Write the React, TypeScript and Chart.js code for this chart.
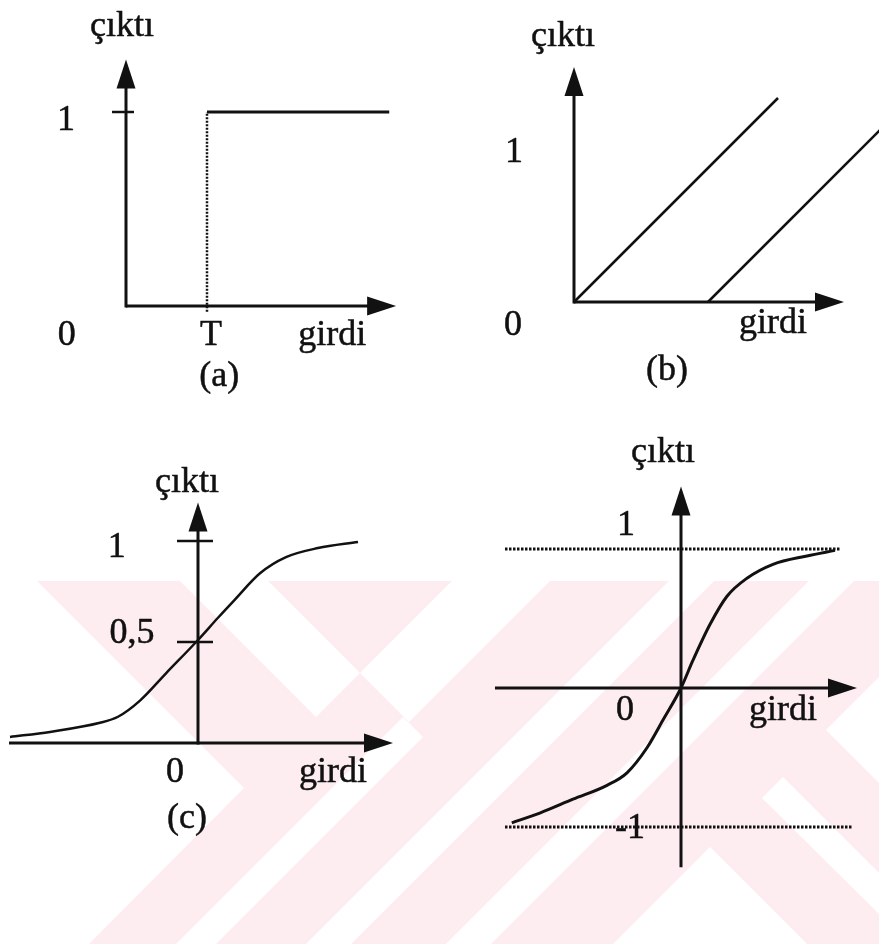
import React, { useEffect, useRef } from "react";
import { Chart, registerables } from "chart.js";

Chart.register(...registerables);

// ---------------- data ----------------
// (a) threshold (step) function, threshold T
const A_HIGH_X = [2, 6.5];
const A_HIGH_Y = [1, 1];
const A_THRESH_X = [2, 2];
const A_THRESH_Y = [-0.03, 1];
const A_AXIS_X = [0, 6.67];
const A_AXIS_Y = [0, 1.27];
const A_TICKS_Y = [1];

// (b) linear functions
const B_LINE1_X = [0, 1.36];
const B_LINE1_Y = [0, 1.36];
const B_LINE2_X = [0.893, 2.04];
const B_LINE2_Y = [0, 1.147];
const B_AXIS_X = [0, 1.8];
const B_AXIS_Y = [0, 1.567];
const B_TICKS_Y: number[] = [];

// (c) sigmoid
const C_X = [-4.7, -3.7, -2.45, -2.0, -1.45, -0.8, 0, 0.5, 0.9, 1.55, 2.2, 3.0, 4.0];
const C_Y = [0.03, 0.055, 0.1, 0.13, 0.21, 0.345, 0.51, 0.62, 0.705, 0.84, 0.92, 0.965, 0.995];
const C_AXIS_X = [-4.725, 4.875];
const C_AXIS_Y = [0, 1.19];
const C_TICKS_Y = [1, 0.5];

// (d) hyperbolic tangent
const D_X = [-4.23, -3.53, -2.7, -1.85, -1.35, -0.85, -0.45, 0, 0.3, 0.73, 1.15, 1.65, 2.3, 3.15, 3.85];
const D_Y = [-0.97, -0.9, -0.8, -0.7, -0.61, -0.43, -0.23, 0, 0.2, 0.46, 0.66, 0.79, 0.89, 0.95, 0.99];
const D_UPPER_X = [-4.4, 3.98];
const D_UPPER_Y = [1, 1];
const D_LOWER_X = [-4.4, 4.3];
const D_LOWER_Y = [-1, -1];
const D_AXIS_X = [-4.65, 4.4];
const D_AXIS_Y = [-1.29, 1.45];
const D_TICKS_Y: number[] = [];

// text labels (positions in each panel's own units)
const A_LABELS = [
  { t: "çıktı", x: -0.1, y: 1.39 },
  { t: "1", x: -1.48, y: 0.907 },
  { t: "0", x: -1.46, y: -0.2 },
  { t: "T", x: 2.1, y: -0.2 },
  { t: "girdi", x: 5.09, y: -0.2 },
  { t: "(a)", x: 2.3, y: -0.41 },
];
const B_LABELS = [
  { t: "çıktı", x: -0.073, y: 1.707 },
  { t: "1", x: -0.4, y: 0.933 },
  { t: "0", x: -0.407, y: -0.22 },
  { t: "girdi", x: 1.327, y: -0.207 },
  { t: "(b)", x: 0.62, y: -0.52 },
];
const C_LABELS = [
  { t: "çıktı", x: -0.275, y: 1.243 },
  { t: "1", x: -2.03, y: 0.921 },
  { t: "0,5", x: -1.65, y: 0.495 },
  { t: "0", x: -0.575, y: -0.193 },
  { t: "girdi", x: 3.375, y: -0.193 },
  { t: "(c)", x: -0.275, y: -0.421 },
];
const D_LABELS = [
  { t: "çıktı", x: -0.45, y: 1.626 },
  { t: "1", x: -1.375, y: 1.1 },
  { t: "0", x: -1.4, y: -0.23 },
  { t: "girdi", x: 2.55, y: -0.23 },
  { t: "-1", x: -1.275, y: -1.079 },
];

// ---------------- layout / style ----------------
const W = 879;
const H = 944;
const INK = "#111111";
const PINK = "#fdedf0";
const FONT = '36px "Liberation Serif", "Times New Roman", serif';
const AXIS_W = 3;
const ARROW_LEN = 29;
const ARROW_HALF = 9.5;

// pixel anchors of each panel: origin pixel and pixels per unit
const LAYOUT = {
  a: { x0: 126, kx: 40.5, y0: 306, ky: 194, tickL: 14, tickR: 8 },
  b: { x0: 574, kx: 150, y0: 302, ky: 150, tickL: 0, tickR: 0 },
  c: { x0: 198, kx: 40, y0: 743, ky: 202, tickL: 21, tickR: 15 },
  d: { x0: 681, kx: 40, y0: 688, ky: 139, tickL: 0, tickR: 0 },
};

// background watermark (decoration): pale band region with white cut-outs
const WM_TOP = 581;
const WM_WHITE: number[][][] = [
  [[0, 581], [37, 581], [244, 788], [89, 944], [0, 944]],
  [[180, 581], [268, 581], [360, 673], [316, 717]],
  [[452, 581], [550, 581], [409, 722], [360, 673]],
  [[403, 717], [423, 737], [216, 944], [176, 944]],
  [[669, 581], [714, 581], [351, 944], [306, 944]],
  [[809, 581], [854, 581], [491, 944], [446, 944]],
  [[710, 847], [613, 944], [807, 944]],
  [[762, 798], [783, 777], [879, 873], [879, 914]],
  [[826, 730], [879, 677], [879, 783]],
];

const PANELS = [
  { id: "a", ax: A_AXIS_X, ay: A_AXIS_Y, ticks: A_TICKS_Y, labels: A_LABELS },
  { id: "b", ax: B_AXIS_X, ay: B_AXIS_Y, ticks: B_TICKS_Y, labels: B_LABELS },
  { id: "c", ax: C_AXIS_X, ay: C_AXIS_Y, ticks: C_TICKS_Y, labels: C_LABELS },
  { id: "d", ax: D_AXIS_X, ay: D_AXIS_Y, ticks: D_TICKS_Y, labels: D_LABELS },
];

const xy = (xs: number[], ys: number[]) => xs.map((x, i) => ({ x, y: ys[i] }));

function xScale(x0: number, k: number) {
  return { type: "linear", display: false, bounds: "data", min: -x0 / k, max: (W - x0) / k };
}
function yScale(y0: number, k: number) {
  return { type: "linear", display: false, bounds: "data", min: (y0 - H) / k, max: y0 / k };
}

const overlayPlugin = {
  id: "sketchOverlay",
  beforeDraw(chart: any) {
    const ctx = chart.ctx;
    ctx.save();
    ctx.fillStyle = "#ffffff";
    ctx.fillRect(0, 0, chart.width, chart.height);
    ctx.fillStyle = PINK;
    ctx.fillRect(0, WM_TOP, chart.width, chart.height - WM_TOP);
    ctx.fillStyle = "#ffffff";
    for (const poly of WM_WHITE) {
      ctx.beginPath();
      poly.forEach((p, i) => (i === 0 ? ctx.moveTo(p[0], p[1]) : ctx.lineTo(p[0], p[1])));
      ctx.closePath();
      ctx.fill();
    }
    ctx.restore();
  },
  afterDatasetsDraw(chart: any) {
    const ctx = chart.ctx;
    ctx.save();
    for (const p of PANELS) {
      const sx = chart.scales["x" + p.id];
      const sy = chart.scales["y" + p.id];
      const lay = (LAYOUT as any)[p.id];
      const ox = sx.getPixelForValue(0);
      const oy = sy.getPixelForValue(0);
      const xStart = sx.getPixelForValue(p.ax[0]);
      const xTip = sx.getPixelForValue(p.ax[1]);
      const yStart = sy.getPixelForValue(p.ay[0]);
      const yTip = sy.getPixelForValue(p.ay[1]);
      ctx.strokeStyle = INK;
      ctx.fillStyle = INK;
      ctx.lineWidth = AXIS_W;
      ctx.lineCap = "butt";
      // x axis
      ctx.beginPath();
      ctx.moveTo(xStart, oy);
      ctx.lineTo(xTip - ARROW_LEN + 2, oy);
      ctx.stroke();
      ctx.beginPath();
      ctx.moveTo(xTip, oy);
      ctx.lineTo(xTip - ARROW_LEN, oy - ARROW_HALF);
      ctx.lineTo(xTip - ARROW_LEN, oy + ARROW_HALF);
      ctx.closePath();
      ctx.fill();
      // y axis
      ctx.beginPath();
      ctx.moveTo(ox, yStart + (p.ay[0] === 0 ? AXIS_W / 2 : 0));
      ctx.lineTo(ox, yTip + ARROW_LEN - 2);
      ctx.stroke();
      ctx.beginPath();
      ctx.moveTo(ox, yTip);
      ctx.lineTo(ox - ARROW_HALF, yTip + ARROW_LEN);
      ctx.lineTo(ox + ARROW_HALF, yTip + ARROW_LEN);
      ctx.closePath();
      ctx.fill();
      // ticks
      ctx.lineWidth = 2.5;
      for (const v of p.ticks) {
        const ty = sy.getPixelForValue(v);
        ctx.beginPath();
        ctx.moveTo(ox - lay.tickL, ty);
        ctx.lineTo(ox + lay.tickR, ty);
        ctx.stroke();
      }
      // labels (slightly heavier, like the scanned original)
      ctx.font = FONT;
      ctx.textAlign = "center";
      ctx.textBaseline = "alphabetic";
      ctx.lineWidth = 0.5;
      ctx.lineJoin = "round";
      for (const l of p.labels) {
        const tx = sx.getPixelForValue(l.x);
        const ty = sy.getPixelForValue(l.y);
        ctx.fillText(l.t, tx, ty);
        ctx.strokeText(l.t, tx, ty);
      }
    }
    ctx.restore();
  },
};

export default function App() {
  const ref = useRef<HTMLCanvasElement | null>(null);

  useEffect(() => {
    if (!ref.current) return;
    const base = {
      showLine: true,
      pointRadius: 0,
      borderColor: INK,
      backgroundColor: INK,
      fill: false,
      borderCapStyle: "butt",
    };
    const chart = new Chart(ref.current, {
      type: "scatter",
      data: {
        datasets: [
          { ...base, label: "a-high", data: xy(A_HIGH_X, A_HIGH_Y), xAxisID: "xa", yAxisID: "ya", borderWidth: 3 },
          { ...base, label: "a-T", data: xy(A_THRESH_X, A_THRESH_Y), xAxisID: "xa", yAxisID: "ya", borderWidth: 2.5, borderDash: [2, 1.5] },
          { ...base, label: "b-1", data: xy(B_LINE1_X, B_LINE1_Y), xAxisID: "xb", yAxisID: "yb", borderWidth: 2.5 },
          { ...base, label: "b-2", data: xy(B_LINE2_X, B_LINE2_Y), xAxisID: "xb", yAxisID: "yb", borderWidth: 2.5 },
          { ...base, label: "c", data: xy(C_X, C_Y), xAxisID: "xc", yAxisID: "yc", borderWidth: 2.5, cubicInterpolationMode: "monotone" },
          { ...base, label: "d-up", data: xy(D_UPPER_X, D_UPPER_Y), xAxisID: "xd", yAxisID: "yd", borderWidth: 3, borderDash: [2.5, 1.5] },
          { ...base, label: "d-low", data: xy(D_LOWER_X, D_LOWER_Y), xAxisID: "xd", yAxisID: "yd", borderWidth: 3, borderDash: [2.5, 1.5] },
          { ...base, label: "d", data: xy(D_X, D_Y), xAxisID: "xd", yAxisID: "yd", borderWidth: 3, cubicInterpolationMode: "monotone" },
        ] as any,
      },
      options: {
        animation: false,
        responsive: false,
        devicePixelRatio: 1,
        events: [],
        layout: { padding: 0 },
        plugins: { legend: { display: false }, tooltip: { enabled: false }, title: { display: false } },
        scales: {
          xa: xScale(LAYOUT.a.x0, LAYOUT.a.kx),
          ya: yScale(LAYOUT.a.y0, LAYOUT.a.ky),
          xb: xScale(LAYOUT.b.x0, LAYOUT.b.kx),
          yb: yScale(LAYOUT.b.y0, LAYOUT.b.ky),
          xc: xScale(LAYOUT.c.x0, LAYOUT.c.kx),
          yc: yScale(LAYOUT.c.y0, LAYOUT.c.ky),
          xd: xScale(LAYOUT.d.x0, LAYOUT.d.kx),
          yd: yScale(LAYOUT.d.y0, LAYOUT.d.ky),
        } as any,
      },
      plugins: [overlayPlugin],
    });
    return () => chart.destroy();
  }, []);

  return (
    <div style={{ position: "absolute", left: 0, top: 0, width: W, height: H, background: "#fff" }}>
      <canvas ref={ref} width={W} height={H} style={{ display: "block", width: W, height: H }} />
    </div>
  );
}
